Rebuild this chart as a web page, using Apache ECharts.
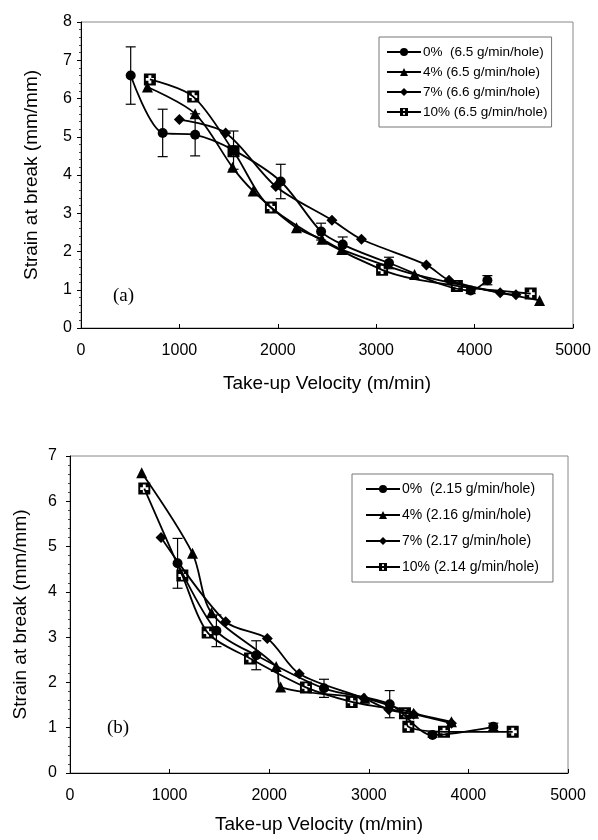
<!DOCTYPE html>
<html><head><meta charset="utf-8">
<script src="https://cdn.jsdelivr.net/npm/echarts/dist/echarts.min.js"></script>
<style>html,body{margin:0;padding:0;background:#fff}#c{width:598px;height:840px}</style>
</head><body><div id="c"></div>
<script>
// ---------- Panel (a) ----------
const namesA = ['0%  (6.5 g/min/hole)', '4% (6.5 g/min/hole)', '7% (6.6 g/min/hole)', '10% (6.5 g/min/hole)'];
const velA0 = [505, 830, 1160, 1550, 2030, 2440, 2660, 3130, 3960, 4130];
const strainA0 = [6.6, 5.1, 5.05, 4.65, 3.83, 2.52, 2.18, 1.7, 0.98, 1.25];
const errA0 = [0.75, 0.62, 0.55, 0.5, 0.45, 0.22, 0.2, 0.15, 0.08, 0.12];
const velA4 = [675, 1160, 1540, 1750, 2190, 2450, 2650, 3390, 4660];
const strainA4 = [6.3, 5.6, 4.2, 3.58, 2.62, 2.32, 2.05, 1.4, 0.72];
const velA7 = [1000, 1470, 1980, 2550, 2850, 3510, 3740, 4260, 4420];
const strainA7 = [5.45, 5.1, 3.7, 2.82, 2.32, 1.65, 1.25, 0.92, 0.87];
const velA10 = [700, 1140, 1550, 1930, 3060, 3820, 4570];
const strainA10 = [6.5, 6.05, 4.62, 3.15, 1.52, 1.1, 0.9];

// ---------- Panel (b) ----------
const namesB = ['0%  (2.15 g/min/hole)', '4% (2.16 g/min/hole)', '7% (2.17 g/min/hole)', '10% (2.14 g/min/hole)'];
const velB0 = [1080, 1470, 1870, 2550, 3210, 3640, 4250];
const strainB0 = [4.63, 3.14, 2.6, 1.87, 1.52, 0.84, 1.02];
const errB0 = [0.55, 0.35, 0.32, 0.2, 0.3, 0.05, 0.08];
const velB4 = [720, 1230, 1420, 2070, 2115, 2960, 3450, 3830];
const strainB4 = [6.63, 4.85, 3.54, 2.35, 1.9, 1.65, 1.32, 1.13];
const velB7 = [914, 1563, 1981, 2302, 2950, 3200, 3450, 3830];
const strainB7 = [5.2, 3.34, 2.97, 2.19, 1.65, 1.4, 1.3, 1.1];
const velB10 = [746, 1128, 1382, 1807, 2369, 2828, 3363, 3397, 3755, 4445];
const strainB10 = [6.28, 4.36, 3.1, 2.53, 1.89, 1.57, 1.32, 1.02, 0.91, 0.91];

const xTicks = [0, 1000, 2000, 3000, 4000, 5000];
const xTitle = 'Take-up Velocity (m/min)';
const yTitle = 'Strain at break (mm/mm)';

const FONT = 'Liberation Sans, Arial, sans-serif';
const sqPlus = 'path://M0,0L10,0L10,10L0,10Z M3.8,1.6L3.8,3.8L1.6,3.8L1.6,6.2L3.8,6.2L3.8,8.4L6.2,8.4L6.2,6.2L8.4,6.2L8.4,3.8L6.2,3.8L6.2,1.6Z';
const symbols = ['circle', 'triangle', 'diamond', sqPlus];
const symSizes = [10, 11, 11, 12];

const zip = (xs, ys) => xs.map((x, i) => [x, ys[i]]);
const zip3 = (xs, ys, es) => xs.map((x, i) => [x, ys[i], es[i]]);

function lineSeries(name, data, k, idx) {
  return {
    type: 'line', name: name, data: data, xAxisIndex: idx, yAxisIndex: idx,
    symbol: symbols[k], symbolSize: symSizes[k], symbolKeepAspect: true,
    smooth: 0.3, showSymbol: true,
    lineStyle: { color: '#000', width: 1.8 },
    itemStyle: { color: '#000', borderWidth: 0 },
    emphasis: { disabled: true }, z: 3
  };
}
function errRender(params, api) {
  const x = api.value(0), y = api.value(1), e = api.value(2);
  const hi = api.coord([x, y + e]), lo = api.coord([x, y - e]);
  const w = 5, st = { stroke: '#000', lineWidth: 1.2 };
  return { type: 'group', children: [
    { type: 'line', shape: { x1: hi[0], y1: hi[1], x2: lo[0], y2: lo[1] }, style: st },
    { type: 'line', shape: { x1: hi[0] - w, y1: hi[1], x2: hi[0] + w, y2: hi[1] }, style: st },
    { type: 'line', shape: { x1: lo[0] - w, y1: lo[1], x2: lo[0] + w, y2: lo[1] }, style: st }
  ]};
}
function xAxis(idx) {
  return {
    type: 'value', gridIndex: idx, min: xTicks[0], max: xTicks[xTicks.length - 1], interval: 1000,
    name: xTitle, nameLocation: 'middle', nameGap: idx === 0 ? 46 : 42,
    nameTextStyle: { fontFamily: FONT, fontSize: 19, color: '#000' },
    axisLine: { show: true, lineStyle: { color: '#000', width: 1 } },
    axisTick: { show: true, inside: true, length: 4, lineStyle: { color: '#000' } },
    axisLabel: { fontFamily: FONT, fontSize: 16, color: '#000', margin: 15, formatter: v => String(v) },
    splitLine: { show: false }
  };
}
function yAxis(idx, max) {
  return {
    type: 'value', gridIndex: idx, min: 0, max: max, interval: 1,
    name: yTitle, nameLocation: 'middle', nameGap: 40,
    nameTextStyle: { fontFamily: FONT, fontSize: 19, color: '#000' },
    axisLine: { show: true, lineStyle: { color: '#000', width: 1 } },
    axisTick: { show: true, inside: false, length: 4, lineStyle: { color: '#000' } },
    minorTick: { show: true, splitNumber: 5, length: 2, lineStyle: { color: '#444' } },
    axisLabel: { fontFamily: FONT, fontSize: 16, color: '#000', margin: idx === 0 ? 9 : 13, formatter: v => String(v) },
    splitLine: { show: false }
  };
}
function legend(names, left, top, gap, fs, pad) {
  return {
    data: names, orient: 'vertical', left: left, top: top,
    itemWidth: 34, itemHeight: 10, itemGap: gap,
    padding: pad,
    borderColor: '#777', borderWidth: 1,
    textStyle: { fontFamily: FONT, fontSize: fs, color: '#000', padding: [0, 0, 0, -3] },
    selectedMode: false
  };
}

const chart = echarts.init(document.getElementById('c'), null, { renderer: 'canvas' });
chart.setOption({
  animation: false,
  backgroundColor: '#fff',
  grid: [
    { left: 81, right: 25, top: 22, height: 306, show: true, borderColor: '#888', borderWidth: 1 },
    { left: 70, right: 30, top: 456, height: 317, show: true, borderColor: '#888', borderWidth: 1 }
  ],
  xAxis: [xAxis(0), xAxis(1)],
  yAxis: [yAxis(0, 8), yAxis(1, 7)],
  legend: [
    legend(namesA, 379, 37, 6, 13.5, [8, 4, 8, 7]),
    legend(namesB, 352, 474, 12, 14, [8, 14, 8, 13])
  ],
  graphic: [
    { type: 'text', left: 113, top: 287, style: { text: '(a)', font: '19px "Liberation Serif", "Times New Roman", serif', fill: '#000' } },
    { type: 'text', left: 107, top: 719, style: { text: '(b)', font: '19px "Liberation Serif", "Times New Roman", serif', fill: '#000' } }
  ],
  series: [
    { type: 'custom', name: 'errA', xAxisIndex: 0, yAxisIndex: 0, renderItem: errRender, data: zip3(velA0, strainA0, errA0), z: 2 },
    lineSeries(namesA[0], zip(velA0, strainA0), 0, 0),
    lineSeries(namesA[1], zip(velA4, strainA4), 1, 0),
    lineSeries(namesA[2], zip(velA7, strainA7), 2, 0),
    lineSeries(namesA[3], zip(velA10, strainA10), 3, 0),
    { type: 'custom', name: 'errB', xAxisIndex: 1, yAxisIndex: 1, renderItem: errRender, data: zip3(velB0, strainB0, errB0), z: 2 },
    lineSeries(namesB[0], zip(velB0, strainB0), 0, 1),
    lineSeries(namesB[1], zip(velB4, strainB4), 1, 1),
    lineSeries(namesB[2], zip(velB7, strainB7), 2, 1),
    lineSeries(namesB[3], zip(velB10, strainB10), 3, 1)
  ]
});
</script></body></html>
